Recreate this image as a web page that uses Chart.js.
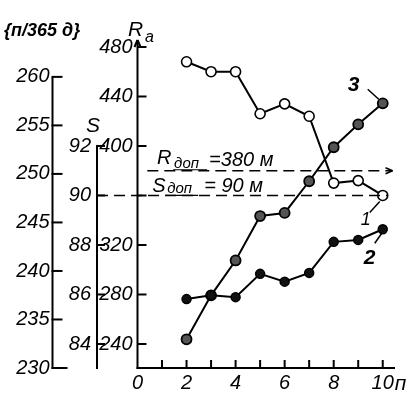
<!DOCTYPE html>
<html><head><meta charset="utf-8">
<script src="https://cdn.jsdelivr.net/npm/chart.js@4.4.1/dist/chart.umd.min.js"></script>
<style>html,body{margin:0;padding:0;background:#fff;}canvas{display:block;}</style>
</head><body>
<canvas id="c" width="410" height="395"></canvas>
<script>
// ---- data ----
const nValues = [2, 3, 4, 5, 6, 7, 8, 9, 10];
const curve1S = [95.4, 95.0, 95.0, 93.3, 93.7, 93.2, 90.5, 90.6, 90.0];          // curve 1, S axis
const curve2P = [237.1, 237.5, 237.3, 239.7, 238.9, 239.8, 243.0, 243.2, 244.3]; // curve 2, п/365 д axis
const curve3R = [243.8, 279.3, 307.5, 343.4, 345.9, 371.5, 399.0, 417.5, 434.5]; // curve 3, R axis
const xTicks = [0, 1, 2, 3, 4, 5, 6, 7, 8, 9, 10];
const rTicks = [240, 280, 320, 360, 400, 440, 480];
const sTicks = [84, 86, 88, 90, 92];
const pTicks = [230, 235, 240, 245, 250, 255, 260];
const R_DOP = 380;
const S_DOP = 90;

// ---- scale ranges (layout) ----
const R_MIN = 220.6, R_MAX = 485.65;
const S_MIN = 83.03, S_MAX = 96.28;
const P_MIN = 230, P_MAX = 263.8;
const X_MIN = 0, X_MAX = 10.5;

const FAM = '"Liberation Sans",sans-serif';
const tickFont = {family: FAM, size: 20, style: 'italic'};
const fixedTicks = list => axis => { axis.ticks = list.map(v => ({value: v})); };
const pts = (xs, ys) => xs.map((x, i) => ({x, y: ys[i]}));

const axesPlugin = {
  id: 'axesDraw',
  afterDraw(chart) {
    const ctx = chart.ctx;
    const {x, yR, yS, yP} = chart.scales;
    const ca = chart.chartArea;
    ctx.save();
    ctx.strokeStyle = '#000';
    ctx.fillStyle = '#000';
    ctx.lineWidth = 2;
    const line = (x1, y1, x2, y2) => { ctx.beginPath(); ctx.moveTo(x1, y1); ctx.lineTo(x2, y2); ctx.stroke(); };
    // п/365 д axis
    const px = yP.right;
    line(px, yP.getPixelForValue(pTicks[0]) + 1, px, yP.getPixelForValue(pTicks[pTicks.length - 1]));
    pTicks.forEach(v => { const y = yP.getPixelForValue(v); line(px - 1, y, px + (v === pTicks[0] ? 15 : 10), y); });
    // S axis
    const sx = yS.right;
    line(sx, ca.bottom + 1, sx, yS.getPixelForValue(sTicks[sTicks.length - 1]));
    sTicks.forEach(v => { const y = yS.getPixelForValue(v); line(sx - 1, y, sx + 8, y); });
    // R axis
    const rx = ca.left;
    line(rx, ca.bottom + 1, rx, ca.top);
    line(rx - 3, ca.top + 7, rx, ca.top);
    line(rx + 3, ca.top + 7, rx, ca.top);
    rTicks.forEach(v => { const y = yR.getPixelForValue(v); line(rx, y, rx + 9, y); });
    // x axis
    line(rx - 1, ca.bottom, ca.right, ca.bottom);
    xTicks.forEach(v => { if (v === 0) return; const xx = x.getPixelForValue(v); line(xx, ca.bottom, xx, ca.bottom - 8); });
    // arrow at end of R доп line
    const ax = x.getPixelForValue(10.4), ay = yR.getPixelForValue(R_DOP);
    ctx.lineWidth = 1.5;
    line(ax - 7, ay - 3, ax, ay); line(ax - 7, ay + 3, ax, ay);

    // texts
    const F = (sz) => `italic ${sz}px ${FAM}`;
    ctx.textBaseline = 'alphabetic';
    ctx.textAlign = 'left';
    ctx.font = `italic bold 18px ${FAM}`; ctx.fillText('{п/365 д}', 4, 36);
    ctx.font = F(21); ctx.fillText('S', 86, 132);
    ctx.font = F(21); ctx.fillText('R', 128, 36);
    ctx.font = F(16); ctx.fillText('a', 145, 42);
    // x axis name
    ctx.font = F(21); ctx.fillText('п', x.getPixelForValue(10) + 12, ca.bottom + 22);

    // R доп label
    const rdx = x.getPixelForValue(0.8), rdy = yR.getPixelForValue(R_DOP);
    ctx.font = F(20); ctx.fillText('R', rdx, rdy - 7);
    ctx.font = F(15); ctx.fillText('доп', rdx + 17, rdy - 3);
    ctx.lineWidth = 1.2; line(rdx + 16, rdy - 1, rdx + 50, rdy - 1);
    ctx.font = F(20); ctx.fillText('=380 м', rdx + 52, rdy - 5);
    // S доп label
    const sdx = x.getPixelForValue(0.6), sdy = yS.getPixelForValue(S_DOP);
    ctx.font = F(20); ctx.fillText('S', sdx, sdy - 3);
    ctx.font = F(15); ctx.fillText('доп', sdx + 15, sdy - 2);
    line(sdx + 13, sdy, sdx + 46, sdy);
    ctx.font = F(20); ctx.fillText('= 90 м', sdx + 52, sdy - 3);

    // curve labels
    ctx.lineWidth = 1.5;
    const p1 = {x: x.getPixelForValue(nValues[8]), y: yS.getPixelForValue(curve1S[8])};
    ctx.font = F(18); ctx.fillText('1', p1.x - 22, p1.y + 30);
    line(p1.x - 13, p1.y + 17, p1.x - 3, p1.y + 6);
    const p2 = {x: x.getPixelForValue(nValues[8]), y: yP.getPixelForValue(curve2P[8])};
    ctx.font = `italic bold 21px ${FAM}`;
    ctx.fillText('2', p2.x - 19, p2.y + 35);
    line(p2.x - 8, p2.y + 14, p2.x - 1, p2.y + 4);
    const p3 = {x: x.getPixelForValue(nValues[8]), y: yR.getPixelForValue(curve3R[8])};
    ctx.font = `italic bold 21px ${FAM}`;
    ctx.fillText('3', p3.x - 35, p3.y - 12);
    line(p3.x - 15, p3.y - 14, p3.x - 4, p3.y - 4);
    ctx.restore();
  }
};

new Chart(document.getElementById('c'), {
  type: 'line',
  data: {
    datasets: [
      {data: [{x: 0.4, y: R_DOP}, {x: 10.4, y: R_DOP}], yAxisID: 'yR', borderColor: '#000', borderWidth: 1.5, borderDash: [11, 6], pointRadius: 0, clip: false},
      {data: [{x: -1.65, y: S_DOP}, {x: 10.2, y: S_DOP}], yAxisID: 'yS', borderColor: '#000', borderWidth: 1.5, borderDash: [11, 6], pointRadius: 0, clip: false},
      {data: pts(nValues, curve1S), yAxisID: 'yS', borderColor: '#000', borderWidth: 2, pointRadius: 5, pointBackgroundColor: '#fff', pointBorderColor: '#000', pointBorderWidth: 1.6},
      {data: pts(nValues, curve2P), yAxisID: 'yP', borderColor: '#000', borderWidth: 2, pointRadius: 4.5, pointBackgroundColor: '#111', pointBorderColor: '#000', pointBorderWidth: 1.5},
      {data: pts(nValues, curve3R), yAxisID: 'yR', borderColor: '#000', borderWidth: 2, pointRadius: 5, pointBackgroundColor: '#555', pointBorderColor: '#000', pointBorderWidth: 1.8}
    ]
  },
  options: {
    responsive: false,
    animation: false,
    layout: {padding: {left: 0, right: 15, top: 40, bottom: 0}},
    plugins: {legend: {display: false}, tooltip: {enabled: false}},
    scales: {
      x: {type: 'linear', position: 'bottom', min: X_MIN, max: X_MAX,
          afterBuildTicks: fixedTicks(xTicks), afterFit: s => { s.height = 27; },
          grid: {display: false, drawTicks: false}, border: {display: false},
          ticks: {font: tickFont, color: '#000', padding: 3, autoSkip: false, maxRotation: 0,
                  callback: v => (v % 2 === 0 ? String(v) : '')}},
      yR: {type: 'linear', position: 'left', weight: 1, min: R_MIN, max: R_MAX,
           afterBuildTicks: fixedTicks(rTicks), afterFit: s => { s.width = 40.5; },
           grid: {display: false, drawTicks: false}, border: {display: false},
           ticks: {font: tickFont, color: '#000', padding: 5, autoSkip: false,
                   callback: v => (v === 360 ? '' : String(v))}},
      yS: {type: 'linear', position: 'left', weight: 2, min: S_MIN, max: S_MAX,
           afterBuildTicks: fixedTicks(sTicks), afterFit: s => { s.width = 44.5; },
           grid: {display: false, drawTicks: false}, border: {display: false},
           ticks: {font: tickFont, color: '#000', padding: 6, autoSkip: false}},
      yP: {type: 'linear', position: 'left', weight: 3, min: P_MIN, max: P_MAX,
           afterBuildTicks: fixedTicks(pTicks), afterFit: s => { s.width = 52.5; },
           grid: {display: false, drawTicks: false}, border: {display: false},
           ticks: {font: tickFont, color: '#000', padding: 3, autoSkip: false}}
    }
  },
  plugins: [axesPlugin]
});
</script>
</body></html>
